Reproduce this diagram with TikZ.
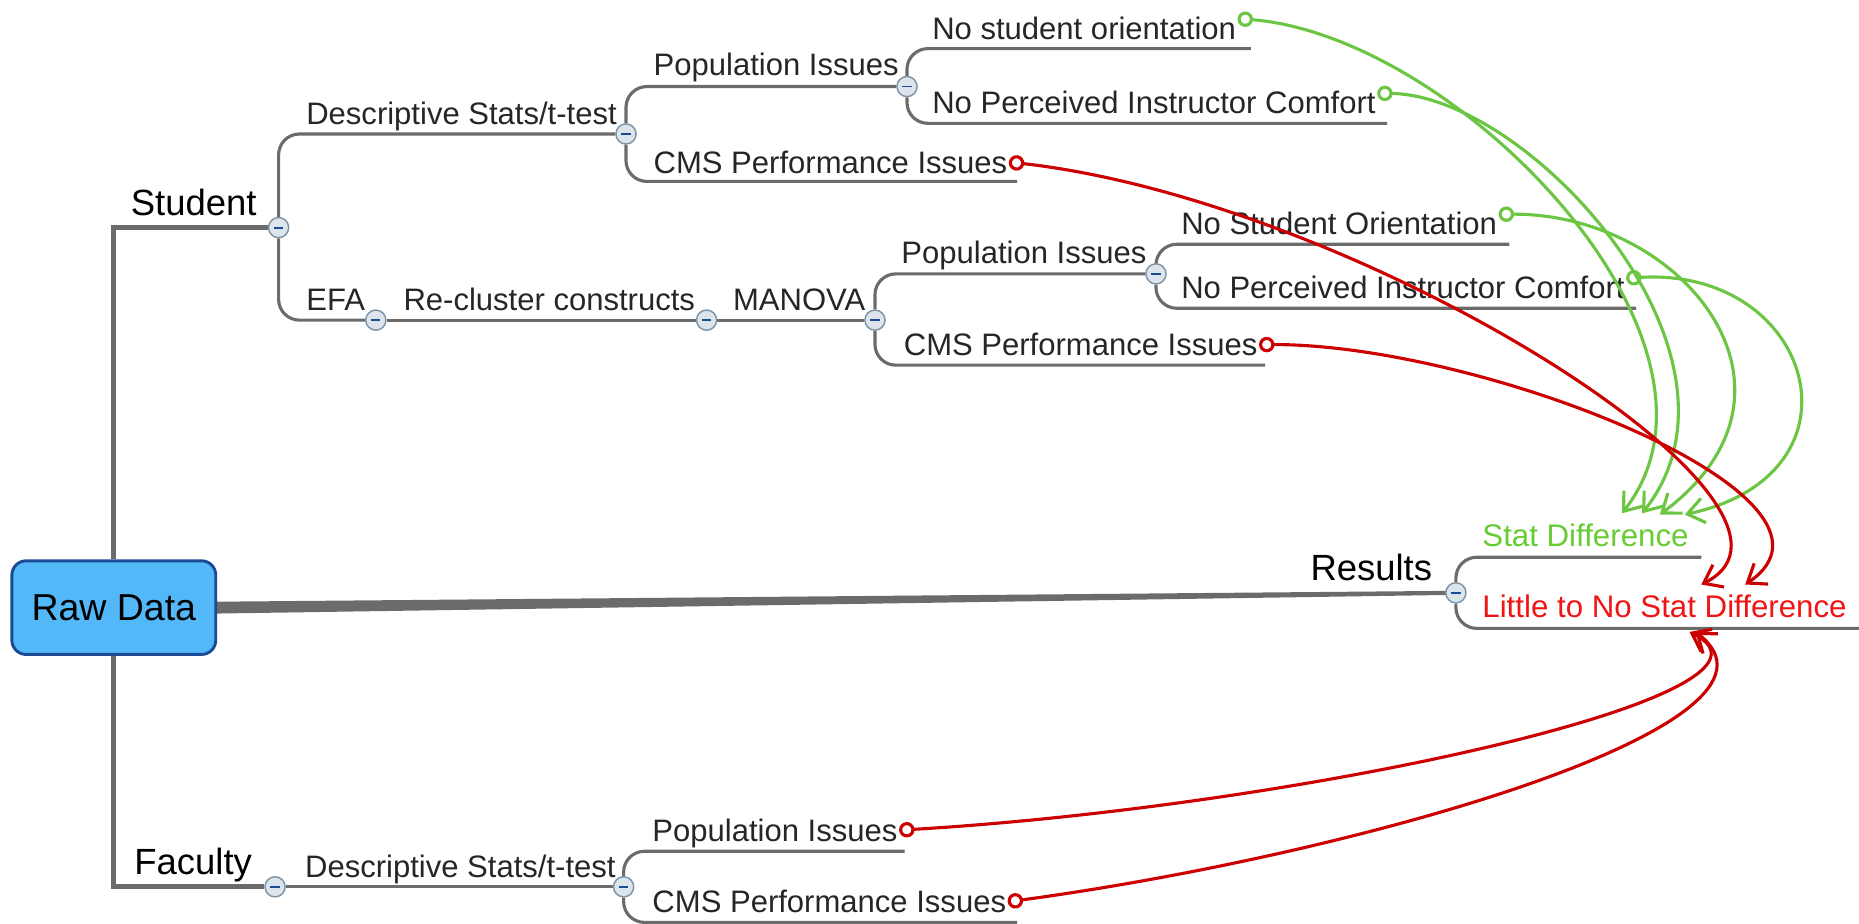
\documentclass[tikz,border=0pt]{standalone}
\usepackage{fontspec}
\setmainfont{Liberation Sans}
\usepackage{tikz}
\usetikzlibrary{arrows.meta,positioning,calc,backgrounds}

\definecolor{rootfill}{HTML}{52B8F7}
\definecolor{rootline}{HTML}{1B4A96}
\definecolor{branchgray}{HTML}{6B6B6B}
\definecolor{linkgreen}{HTML}{6CC644}
\definecolor{linkred}{HTML}{CC0000}
\definecolor{textred}{HTML}{F01414}
\definecolor{textgreen}{HTML}{66CC33}
\definecolor{togglefill}{HTML}{DCE5EC}
\definecolor{toggleline}{HTML}{7E94A6}

\tikzset{
  rootbox/.style={rectangle, rounded corners=0.24cm, draw=rootline, line width=1.4pt, fill=rootfill,
    minimum width=3.44cm, minimum height=1.58cm, font=\fontsize{18}{20}\selectfont},
  topic/.style={anchor=base west, inner sep=0pt, text=black!85, font=\fontsize{14.9}{16}\selectfont},
  maintopic/.style={topic, text=black, font=\fontsize{17.5}{19}\selectfont},
  resulttopic/.style={topic, font=\fontsize{15}{17}\selectfont},
  branch/.style={draw=branchgray, line width=1.5pt, rounded corners=10pt},
  trunk/.style={draw=branchgray, line width=2.4pt},
  toggle/.style={circle, draw=toggleline, fill=togglefill, line width=0.7pt, minimum size=0.34cm, inner sep=0pt,
    path picture={\draw[rootline, line width=0.9pt] ([xshift=-2.2pt]path picture bounding box.center) -- ([xshift=2.2pt]path picture bounding box.center);}},
  relation/.style={line width=1.5pt, {Circle[open,length=0.26cm,width=0.26cm,line width=1.5pt]}-{Straight Barb[length=0.28cm,width=0.42cm,line width=1.5pt]}},
  diffyes/.style={relation, draw=linkgreen},
  diffno/.style={relation, draw=linkred},
}

\begin{document}
\begin{tikzpicture}[x=0.02cm, y=-0.02cm]
\useasboundingbox (0,0) rectangle (1568,779);

% Root
\node[rootbox] (raw) at (96,512.5) {Raw Data};

% Collapse toggles
\node[toggle] (tS)   at (235,192) {};
\node[toggle] (tSD)  at (528,113) {};
\node[toggle] (tSP)  at (765,73)  {};
\node[toggle] (tE)   at (317,270) {};
\node[toggle] (tR)   at (596,270) {};
\node[toggle] (tM)   at (738,270) {};
\node[toggle] (tMP)  at (975,231) {};
\node[toggle] (tRes) at (1228,500) {};
\node[toggle] (tF)   at (232,748) {};
\node[toggle] (tFD)  at (526,748) {};

% Line ends of the leaves
\coordinate (eSC)   at (858,153);
\coordinate (eSPa)  at (1055,41);
\coordinate (eSPb)  at (1170,104);
\coordinate (eMC)   at (1067,308);
\coordinate (eMPa)  at (1273,206);
\coordinate (eMPb)  at (1380,260);
\coordinate (eStat) at (1435,470);
\coordinate (eLow)  at (1568,530);
\coordinate (eFP)   at (763,718);
\coordinate (eFC)   at (858,778);

% Labels
\node[maintopic] (lStudent) at (110,182) {Student};
\node[maintopic] (lResults) at (1105,490) {Results};
\node[maintopic] (lFaculty) at (113,738) {Faculty};
\node[topic] (lSD)  at (258,105) {Descriptive Stats/t-test};
\node[topic] (lEFA) at (258,262) {EFA};
\node[topic] (lRC)  at (340,262) {Re-cluster constructs};
\node[topic] (lMAN) at (618,262) {MANOVA};
\node[topic] (lSP)  at (551,64)  {Population Issues};
\node[topic] (lSC)  at (551,146) {CMS Performance Issues};
\node[topic] (lSPa) at (786,33)  {No student orientation};
\node[topic] (lSPb) at (786,96)  {No Perceived Instructor Comfort};
\node[topic] (lMP)  at (760,222) {Population Issues};
\node[topic] (lMC)  at (762,300) {CMS Performance Issues};
\node[topic] (lMPa) at (996,198) {No Student Orientation};
\node[topic] (lMPb) at (996,252) {No Perceived Instructor Comfort};
\node[resulttopic, text=textgreen] (lStat) at (1250,461) {Stat Difference};
\node[resulttopic, text=textred] (lLow) at (1250,521) {Little to No Stat Difference};
\node[topic] (lFD)  at (257,740) {Descriptive Stats/t-test};
\node[topic] (lFP)  at (550,710) {Population Issues};
\node[topic] (lFC)  at (550,770) {CMS Performance Issues};

% Branches
\begin{scope}[on background layer]
\draw[trunk] (raw.north) |- (tS);
\draw[trunk] (raw.south) |- (tF);
\fill[branchgray] ($(raw.east)+(0,-5)$) -- ($(tRes)+(0,-1.7)$) -- ($(tRes)+(0,1.7)$) -- ($(raw.east)+(0,5)$) -- cycle;
\draw[branch] (tS) |- (tSD);
\draw[branch] (tS) |- (tE);
\draw[branch] (tE) -- (tR);
\draw[branch] (tR) -- (tM);
\draw[branch] (tSD) |- (tSP);
\draw[branch] (tSD) |- (eSC);
\draw[branch] (tSP) |- (eSPa);
\draw[branch] (tSP) |- (eSPb);
\draw[branch] (tM) |- (tMP);
\draw[branch] (tM) |- (eMC);
\draw[branch] (tMP) |- (eMPa);
\draw[branch] (tMP) |- (eMPb);
\draw[branch] (tRes) |- (eStat);
\draw[branch] (tRes) |- (eLow);
\draw[branch] (tF) -- (tFD);
\draw[branch] (tFD) |- (eFP);
\draw[branch] (tFD) |- (eFC);
\end{scope}

% Relation targets
\coordinate (sA) at (1368,433);
\coordinate (sB) at (1385,433);
\coordinate (sC) at (1400,434);
\coordinate (sD) at (1421,434);
\coordinate (nA) at (1435,493);
\coordinate (nB) at (1472,493);
\coordinate (nC) at (1425,533);
\coordinate (nD) at (1430,533);

% Green relations
\draw[diffyes] ($(lSPa.north east)+(1,2)$) .. controls (1230,30) and (1480,290) .. (sA);
\draw[diffyes] ($(lSPb.north east)+(1,2)$) .. controls (1290,80) and (1490,300) .. (sB);
\draw[diffyes] ($(lMPa.north east)+(1,2)$) .. controls (1420,180) and (1540,330) .. (sC);
\draw[diffyes] ($(lMPb.north east)+(1,2)$) .. controls (1530,225) and (1580,400) .. (sD);

% Red relations
\draw[diffno] ($(lSC.east)+(1,0)$) .. controls (1150,170) and (1560,430) .. (nA);
\draw[diffno] ($(lMC.east)+(1,0)$) .. controls (1250,290) and (1580,420) .. (nB);
\draw[diffno] ($(lFP.east)+(1,-3)$) .. controls (1100,680) and (1530,585) .. (nC);
\draw[diffno] ($(lFC.east)+(1,0)$) .. controls (1150,720) and (1530,610) .. (nD);
\end{tikzpicture}
\end{document}
